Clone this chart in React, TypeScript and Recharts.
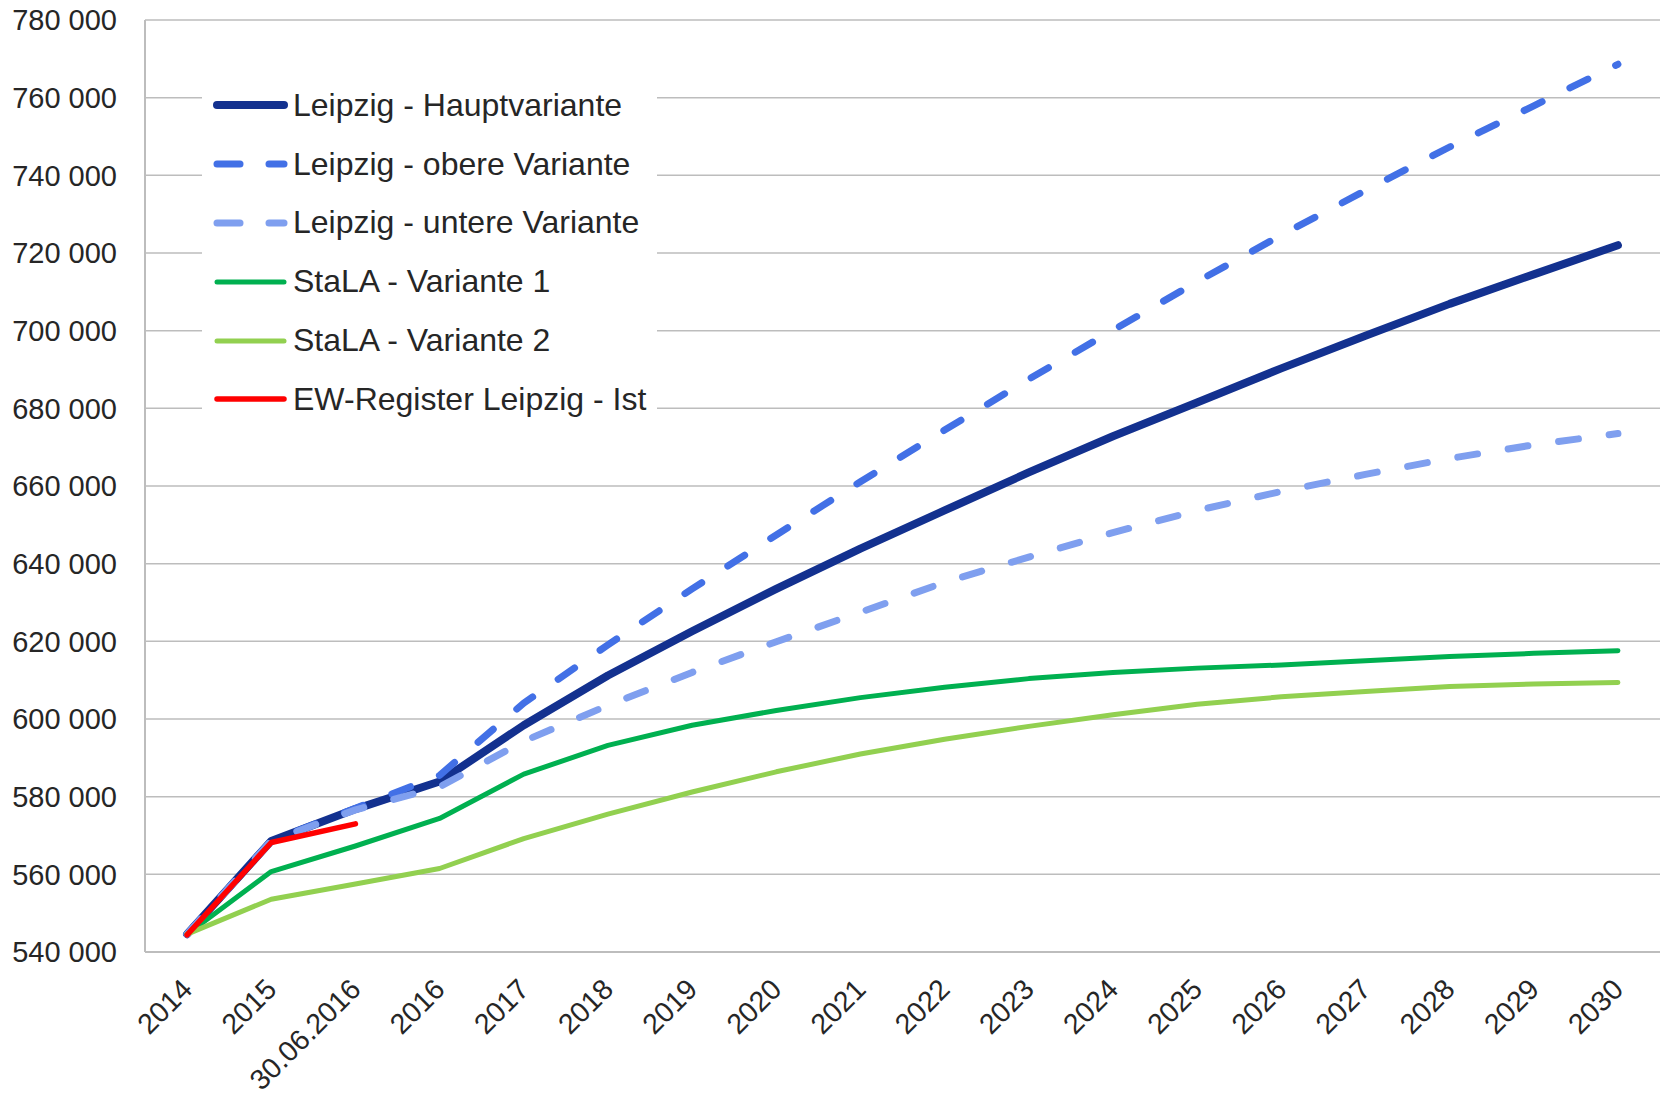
import { LineChart, Line, XAxis, YAxis, CartesianGrid, Legend } from 'recharts';

const categories = ['2014', '2015', '30.06.2016', '2016', '2017', '2018', '2019', '2020', '2021', '2022', '2023', '2024', '2025', '2026', '2027', '2028', '2029', '2030'];

const hauptvariante = [544600, 568600, 576800, 583900, 598400, 611200, 622600, 633500, 643900, 653700, 663500, 672800, 681500, 690300, 698700, 706900, 714500, 722000];
const obereVariante = [544600, 568600, 577000, 585500, 604100, 619100, 633500, 647400, 661100, 674400, 687500, 700100, 712600, 724600, 736100, 747300, 757900, 768600];
const untereVariante = [544600, 568600, 576600, 582500, 594300, 603500, 612000, 619900, 627500, 635200, 641700, 648000, 653700, 658600, 663000, 667100, 670600, 673500];
const stalaV1 = [544600, 560700, 567300, 574400, 585800, 593200, 598400, 602200, 605500, 608200, 610400, 612000, 613100, 613900, 615000, 616100, 616900, 617600];
const stalaV2 = [544600, 553600, 557500, 561500, 569200, 575500, 581200, 586400, 591000, 594800, 598100, 601100, 603800, 605700, 607100, 608400, 609000, 609400];
const ewIst = [544400, 568200, 573000];

const yTicks = [540000, 560000, 580000, 600000, 620000, 640000, 660000, 680000, 700000, 720000, 740000, 760000, 780000];

const series = [
  { key: 'haupt', name: 'Leipzig - Hauptvariante', color: '#13318f', width: 8, dashed: false },
  { key: 'obere', name: 'Leipzig - obere Variante', color: '#4270e6', width: 7, dashed: true },
  { key: 'untere', name: 'Leipzig - untere Variante', color: '#7f9fef', width: 7, dashed: true },
  { key: 'v1', name: 'StaLA - Variante 1', color: '#00b050', width: 5, dashed: false },
  { key: 'v2', name: 'StaLA - Variante 2', color: '#92d050', width: 5, dashed: false },
  { key: 'ist', name: 'EW-Register Leipzig - Ist', color: '#ff0000', width: 5.5, dashed: false },
];

const data = categories.map((c, i) => ({
  cat: c,
  haupt: hauptvariante[i],
  obere: obereVariante[i],
  untere: untereVariante[i],
  v1: stalaV1[i],
  v2: stalaV2[i],
  ist: i < ewIst.length ? ewIst[i] : null,
}));

const FONT = '"Liberation Sans", Arial, sans-serif';
const fmt = (v: number) => String(v).replace(/\B(?=(\d{3})+(?!\d))/g, ' ');

function XTick(props: any) {
  const { x, y, payload } = props;
  const tx = x + 7;
  const ty = y + 39;
  return (
    <text x={tx} y={ty} transform={`rotate(-45, ${tx}, ${ty})`} textAnchor="end" fill="#262626" fontSize={28.5} fontFamily={FONT}>
      {payload.value}
    </text>
  );
}

function LegendBox() {
  return (
    <div style={{ background: '#fff', fontFamily: FONT, fontSize: 32, color: '#262626' }}>
      {series.map((s) => (
        <div key={s.key} style={{ height: 58.8, display: 'flex', alignItems: 'center' }}>
          <svg width={91} height={20} style={{ flex: 'none' }}>
            {s.dashed ? (
              <>
                <line x1={15} y1={10} x2={38} y2={10} stroke={s.color} strokeWidth={s.width} strokeLinecap="round" />
                <line x1={67} y1={10} x2={82} y2={10} stroke={s.color} strokeWidth={s.width} strokeLinecap="round" />
              </>
            ) : (
              <line x1={15} y1={10} x2={82} y2={10} stroke={s.color} strokeWidth={s.width} strokeLinecap="round" />
            )}
          </svg>
          <span style={{ whiteSpace: 'nowrap' }}>{s.name}</span>
        </div>
      ))}
    </div>
  );
}

export default function App() {
  return (
    <div style={{ width: 1660, height: 1093, background: '#fff' }}>
      <style>{'body{margin:0;}'}</style>
      <LineChart width={1660} height={1093} data={data} margin={{ top: 20, right: 0, bottom: 0, left: 0 }}>
        <CartesianGrid vertical={false} stroke="#bdbdbd" strokeWidth={1.5} />
        <XAxis
          dataKey="cat"
          scale="band"
          height={141}
          interval={0}
          tickLine={false}
          tickSize={0}
          tickMargin={0}
          axisLine={{ stroke: '#bdbdbd', strokeWidth: 2 }}
          tick={<XTick />}
        />
        <YAxis
          width={145}
          domain={[540000, 780000]}
          ticks={yTicks}
          interval={0}
          tickFormatter={fmt}
          tickLine={false}
          tickSize={0}
          tickMargin={28}
          axisLine={{ stroke: '#bdbdbd', strokeWidth: 2 }}
          tick={{ fill: '#262626', fontSize: 29, fontFamily: FONT }}
        />
        <Legend
          layout="vertical"
          align="center"
          verticalAlign="middle"
          wrapperStyle={{ left: 202, top: 76, width: 455 }}
          content={() => <LegendBox />}
        />
        {series.map((s) => (
          <Line
            key={s.key}
            dataKey={s.key}
            name={s.name}
            type="linear"
            stroke={s.color}
            strokeWidth={s.width}
            strokeDasharray={s.dashed ? '20 31' : undefined}
            strokeLinecap="round"
            strokeLinejoin="round"
            dot={false}
            activeDot={false}
            connectNulls={false}
            isAnimationActive={false}
          />
        ))}
      </LineChart>
    </div>
  );
}
